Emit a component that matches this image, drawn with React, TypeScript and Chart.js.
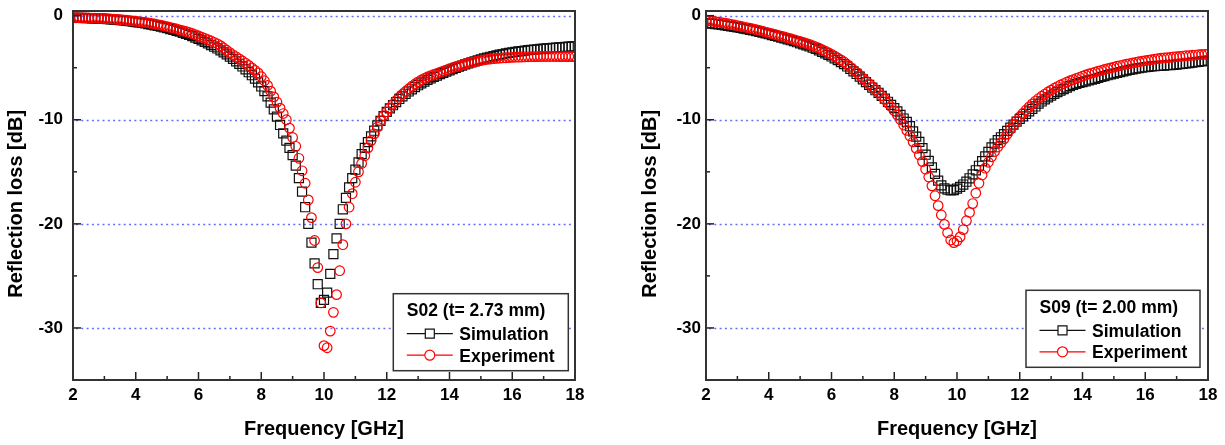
import React, { useEffect, useRef } from "react";
import { Chart, registerables } from "chart.js";

Chart.register(...registerables);

// ---------------- DATA ----------------
const frequencyGHz = [
  2.0, 2.1, 2.2, 2.3, 2.4, 2.5, 2.6, 2.7, 2.8, 2.9,
  3.0, 3.1, 3.2, 3.3, 3.4, 3.5, 3.6, 3.7, 3.8, 3.9,
  4.0, 4.1, 4.2, 4.3, 4.4, 4.5, 4.6, 4.7, 4.8, 4.9,
  5.0, 5.1, 5.2, 5.3, 5.4, 5.5, 5.6, 5.7, 5.8, 5.9,
  6.0, 6.1, 6.2, 6.3, 6.4, 6.5, 6.6, 6.7, 6.8, 6.9,
  7.0, 7.1, 7.2, 7.3, 7.4, 7.5, 7.6, 7.7, 7.8, 7.9,
  8.0, 8.1, 8.2, 8.3, 8.4, 8.5, 8.6, 8.7, 8.8, 8.9,
  9.0, 9.1, 9.2, 9.3, 9.4, 9.5, 9.6, 9.7, 9.8, 9.9,
  10.0, 10.1, 10.2, 10.3, 10.4, 10.5, 10.6, 10.7, 10.8, 10.9,
  11.0, 11.1, 11.2, 11.3, 11.4, 11.5, 11.6, 11.7, 11.8, 11.9,
  12.0, 12.1, 12.2, 12.3, 12.4, 12.5, 12.6, 12.7, 12.8, 12.9,
  13.0, 13.1, 13.2, 13.3, 13.4, 13.5, 13.6, 13.7, 13.8, 13.9,
  14.0, 14.1, 14.2, 14.3, 14.4, 14.5, 14.6, 14.7, 14.8, 14.9,
  15.0, 15.1, 15.2, 15.3, 15.4, 15.5, 15.6, 15.7, 15.8, 15.9,
  16.0, 16.1, 16.2, 16.3, 16.4, 16.5, 16.6, 16.7, 16.8, 16.9,
  17.0, 17.1, 17.2, 17.3, 17.4, 17.5, 17.6, 17.7, 17.8, 17.9,
  18.0,
];

const s02Simulation = [
  -0.20, -0.21, -0.22, -0.22, -0.23, -0.24, -0.25, -0.26, -0.28, -0.29,
  -0.31, -0.33, -0.35, -0.38, -0.40, -0.43, -0.46, -0.50, -0.53, -0.57,
  -0.61, -0.65, -0.70, -0.75, -0.80, -0.86, -0.92, -0.98, -1.05, -1.12,
  -1.20, -1.28, -1.36, -1.45, -1.54, -1.64, -1.74, -1.85, -1.97, -2.10,
  -2.23, -2.37, -2.51, -2.66, -2.82, -2.98, -3.15, -3.33, -3.52, -3.72,
  -3.93, -4.15, -4.38, -4.62, -4.88, -5.15, -5.43, -5.72, -6.05, -6.40,
  -6.80, -7.25, -7.75, -8.35, -9.00, -9.70, -10.50, -11.30, -12.00, -12.70,
  -13.40, -14.40, -15.60, -16.90, -18.40, -20.00, -21.80, -23.80, -25.80, -27.60,
  -27.30, -26.60, -24.80, -22.90, -21.40, -20.00, -18.60, -17.50, -16.50, -15.60,
  -14.80, -14.10, -13.30, -12.70, -12.15, -11.60, -11.05, -10.55, -10.10, -9.65,
  -9.25, -8.90, -8.60, -8.30, -8.00, -7.75, -7.50, -7.28, -7.07, -6.87,
  -6.68, -6.50, -6.33, -6.17, -6.02, -5.88, -5.75, -5.62, -5.50, -5.38,
  -5.26, -5.14, -5.02, -4.90, -4.79, -4.68, -4.58, -4.48, -4.38, -4.29,
  -4.20, -4.11, -4.03, -3.95, -3.88, -3.81, -3.75, -3.69, -3.63, -3.58,
  -3.53, -3.48, -3.44, -3.40, -3.36, -3.32, -3.29, -3.26, -3.23, -3.20,
  -3.17, -3.14, -3.12, -3.09, -3.07, -3.05, -3.02, -3.00, -2.98, -2.96,
  -2.94,
];

const s02Experiment = [
  -0.20, -0.20, -0.21, -0.21, -0.22, -0.22, -0.23, -0.24, -0.25, -0.26,
  -0.27, -0.29, -0.31, -0.33, -0.35, -0.38, -0.41, -0.44, -0.47, -0.50,
  -0.53, -0.57, -0.61, -0.65, -0.70, -0.75, -0.80, -0.86, -0.92, -0.99,
  -1.06, -1.13, -1.20, -1.28, -1.36, -1.44, -1.52, -1.61, -1.71, -1.82,
  -1.94, -2.06, -2.18, -2.30, -2.43, -2.57, -2.70, -2.88, -3.10, -3.32,
  -3.55, -3.76, -3.95, -4.15, -4.35, -4.55, -4.78, -5.02, -5.25, -5.50,
  -5.85, -6.25, -6.70, -7.25, -7.80, -8.30, -8.88, -9.40, -10.00, -10.80,
  -11.70, -12.55, -13.70, -14.90, -16.10, -17.70, -19.40, -21.60, -24.20, -27.60,
  -31.70, -31.90, -30.30, -28.50, -26.80, -24.50, -22.00, -20.00, -18.40, -17.10,
  -16.00, -15.00, -14.20, -13.45, -12.70, -12.00, -11.35, -10.70, -10.10, -9.60,
  -9.25, -8.85, -8.50, -8.15, -7.83, -7.55, -7.28, -7.02, -6.78, -6.56,
  -6.36, -6.18, -6.02, -5.88, -5.76, -5.65, -5.54, -5.43, -5.32, -5.21,
  -5.10, -5.00, -4.91, -4.82, -4.73, -4.64, -4.56, -4.49, -4.42, -4.36,
  -4.30, -4.25, -4.20, -4.16, -4.13, -4.10, -4.08, -4.06, -4.04, -4.02,
  -4.00, -3.99, -3.98, -3.97, -3.96, -3.95, -3.94, -3.93, -3.93, -3.92,
  -3.92, -3.92, -3.92, -3.92, -3.92, -3.93, -3.93, -3.93, -3.93, -3.93,
  -3.93,
];

const s09Simulation = [
  -0.70, -0.73, -0.76, -0.80, -0.84, -0.88, -0.92, -0.97, -1.02, -1.07,
  -1.12, -1.18, -1.24, -1.30, -1.36, -1.42, -1.49, -1.56, -1.63, -1.70,
  -1.78, -1.86, -1.94, -2.02, -2.10, -2.18, -2.27, -2.36, -2.45, -2.55,
  -2.65, -2.75, -2.85, -2.96, -3.08, -3.20, -3.33, -3.47, -3.61, -3.76,
  -3.92, -4.09, -4.27, -4.46, -4.66, -4.88, -5.11, -5.35, -5.60, -5.86,
  -6.12, -6.38, -6.64, -6.90, -7.16, -7.42, -7.70, -7.98, -8.27, -8.57,
  -8.88, -9.20, -9.53, -9.88, -10.20, -10.62, -11.12, -11.62, -12.12, -12.73,
  -13.36, -13.95, -14.57, -15.20, -15.85, -16.30, -16.58, -16.72, -16.78, -16.76,
  -16.62, -16.45, -16.22, -15.95, -15.62, -15.25, -14.85, -14.42, -13.98, -13.52,
  -13.08, -12.65, -12.28, -11.96, -11.68, -11.38, -11.07, -10.76, -10.46, -10.18,
  -9.92, -9.68, -9.44, -9.20, -8.96, -8.72, -8.45, -8.24, -8.04, -7.85,
  -7.67, -7.50, -7.34, -7.19, -7.05, -6.90, -6.77, -6.64, -6.55, -6.46,
  -6.38, -6.30, -6.22, -6.14, -6.06, -5.98, -5.89, -5.80, -5.72, -5.64,
  -5.56, -5.49, -5.42, -5.35, -5.28, -5.21, -5.15, -5.09, -5.04, -4.99,
  -4.95, -4.91, -4.88, -4.85, -4.83, -4.81, -4.79, -4.76, -4.74, -4.72,
  -4.69, -4.66, -4.62, -4.59, -4.55, -4.51, -4.47, -4.43, -4.39, -4.35,
  -4.31,
];

const s09Experiment = [
  -0.45, -0.49, -0.53, -0.57, -0.62, -0.67, -0.72, -0.77, -0.83, -0.89,
  -0.95, -1.01, -1.07, -1.14, -1.20, -1.27, -1.34, -1.41, -1.49, -1.57,
  -1.65, -1.73, -1.81, -1.89, -1.97, -2.05, -2.13, -2.21, -2.30, -2.39,
  -2.48, -2.57, -2.66, -2.76, -2.87, -2.99, -3.12, -3.26, -3.40, -3.55,
  -3.71, -3.88, -4.06, -4.25, -4.45, -4.70, -4.95, -5.20, -5.45, -5.72,
  -6.00, -6.28, -6.55, -6.83, -7.10, -7.37, -7.70, -8.05, -8.40, -8.75,
  -9.13, -9.55, -10.00, -10.50, -11.02, -11.55, -12.12, -12.75, -13.38, -14.02,
  -14.75, -15.50, -16.35, -17.30, -18.25, -19.15, -20.05, -20.85, -21.55, -21.80,
  -21.65, -21.25, -20.55, -19.70, -18.90, -18.05, -17.05, -16.10, -15.30, -14.65,
  -14.08, -13.55, -13.05, -12.62, -12.22, -11.83, -11.38, -10.93, -10.50, -10.10,
  -9.72, -9.38, -9.06, -8.76, -8.47, -8.20, -7.96, -7.74, -7.53, -7.33,
  -7.15, -6.97, -6.81, -6.66, -6.52, -6.38, -6.25, -6.14, -6.03, -5.92,
  -5.81, -5.70, -5.60, -5.51, -5.42, -5.33, -5.25, -5.17, -5.09, -5.01,
  -4.94, -4.86, -4.79, -4.72, -4.66, -4.60, -4.54, -4.48, -4.42, -4.37,
  -4.32, -4.27, -4.22, -4.17, -4.13, -4.09, -4.06, -4.03, -4.00, -3.97,
  -3.94, -3.91, -3.88, -3.85, -3.83, -3.80, -3.78, -3.75, -3.73, -3.71,
  -3.69,
];

const seriesLabels = ["Simulation", "Experiment"];
const panelTitles = ["S02 (t= 2.73 mm)", "S09 (t= 2.00 mm)"];
const xAxisTitle = "Frequency [GHz]";
const yAxisTitle = "Reflection loss [dB]";
const xRange = [2, 18];
const yRange = [-35, 0.45];

// ---------------- STYLE ----------------
const FONT = "Arial, 'Liberation Sans', Helvetica, sans-serif";

const framePlugin = {
  id: "frame",
  beforeDatasetsDraw(chart: any) {
    const { ctx, chartArea: a, scales } = chart;
    const y = scales.y;
    ctx.save();
    ctx.strokeStyle = "rgba(70,70,255,0.8)";
    ctx.lineWidth = 1.5;
    ctx.setLineDash([2, 3.3]);
    y.ticks.forEach((t: any) => {
      if (Math.abs(t.value % 10) < 1e-6) {
        const py = Math.round(y.getPixelForValue(t.value)) + 0.5;
        ctx.beginPath();
        ctx.moveTo(a.left + 3, py);
        ctx.lineTo(a.right, py);
        ctx.stroke();
      }
    });
    ctx.restore();
  },
  afterDatasetsDraw(chart: any) {
    const { ctx, chartArea: a, scales } = chart;
    const x = scales.x;
    const y = scales.y;
    ctx.save();
    ctx.strokeStyle = "#222";
    ctx.lineWidth = 1.5;
    x.ticks.forEach((t: any) => {
      const px = x.getPixelForValue(t.value);
      const len = Math.abs(t.value % 2) < 1e-6 ? 8 : 4;
      ctx.beginPath();
      ctx.moveTo(px, a.bottom);
      ctx.lineTo(px, a.bottom - len);
      ctx.stroke();
    });
    y.ticks.forEach((t: any) => {
      const py = y.getPixelForValue(t.value);
      const len = Math.abs(t.value % 10) < 1e-6 ? 8 : 4;
      ctx.beginPath();
      ctx.moveTo(a.left, py);
      ctx.lineTo(a.left + len, py);
      ctx.stroke();
    });
    ctx.strokeStyle = "#333";
    ctx.lineWidth = 2;
    ctx.strokeRect(a.left, a.top, a.right - a.left, a.bottom - a.top);
    ctx.restore();
  },
};

const boxLegendPlugin = {
  id: "boxLegend",
  afterDraw(chart: any, _args: any, opts: any) {
    const { ctx, chartArea: a } = chart;
    const w = opts.width;
    const h = opts.height;
    const bx = a.right - opts.right - w;
    const by = a.bottom - opts.bottom - h;
    ctx.save();
    ctx.fillStyle = "#fff";
    ctx.fillRect(bx, by, w, h);
    ctx.strokeStyle = "#333";
    ctx.lineWidth = 1.5;
    ctx.strokeRect(bx, by, w, h);
    ctx.fillStyle = "#000";
    ctx.font = `bold 17.5px ${FONT}`;
    ctx.textAlign = "left";
    ctx.textBaseline = "alphabetic";
    ctx.fillText(opts.title, bx + 13.5, by + 22.5);
    const rowY = [by + 40, by + 61.5];
    chart.data.datasets.forEach((ds: any, i: number) => {
      const ly = rowY[i];
      ctx.strokeStyle = ds.borderColor;
      ctx.lineWidth = 1.2;
      ctx.beginPath();
      ctx.moveTo(bx + 13.5, ly);
      ctx.lineTo(bx + 59.5, ly);
      ctx.stroke();
      const cx = bx + 36.5;
      ctx.fillStyle = "#fff";
      ctx.beginPath();
      if (ds.pointStyle === "rect") {
        ctx.rect(cx - 4.5, ly - 4.5, 9, 9);
      } else {
        ctx.arc(cx, ly, 5, 0, Math.PI * 2);
      }
      ctx.fill();
      ctx.stroke();
      ctx.fillStyle = "#000";
      ctx.fillText(ds.label, bx + 66, ly + 6.5);
    });
    ctx.restore();
  },
};

function makeConfig(sim: number[], exp: number[], title: string, yWidth: number, yPad: number, rightPad: number, legend: any) {
  return {
    type: "scatter" as const,
    data: {
      datasets: [
        {
          label: seriesLabels[0],
          data: frequencyGHz.map((f, i) => ({ x: f, y: sim[i] })),
          showLine: false,
          pointStyle: "rect",
          pointRadius: 6.4,
          pointHoverRadius: 6.4,
          pointBorderWidth: 1.2,
          borderColor: "#111111",
          backgroundColor: "rgba(0,0,0,0)",
          order: 2,
          clip: 0,
        },
        {
          label: seriesLabels[1],
          data: frequencyGHz.map((f, i) => ({ x: f, y: exp[i] })),
          showLine: false,
          pointStyle: "circle",
          pointRadius: 4.8,
          pointHoverRadius: 4.8,
          pointBorderWidth: 1.2,
          borderColor: "#ff0000",
          backgroundColor: "rgba(0,0,0,0)",
          order: 1,
          clip: 0,
        },
      ],
    },
    options: {
      animation: false as const,
      responsive: false,
      maintainAspectRatio: false,
      events: [],
      layout: { padding: { left: 0, top: 11, right: rightPad, bottom: 0 } },
      plugins: {
        legend: { display: false },
        tooltip: { enabled: false },
        boxLegend: { title, ...legend },
      },
      scales: {
        x: {
          type: "linear" as const,
          min: xRange[0],
          max: xRange[1],
          grid: { display: false, drawTicks: false },
          border: { display: false },
          ticks: {
            stepSize: 1,
            autoSkip: false,
            maxRotation: 0,
            padding: 5,
            color: "#000",
            font: { family: FONT, size: 17, weight: "bold" },
            callback: (v: any) => (Math.abs(Number(v) % 2) < 1e-6 ? String(v) : ""),
          },
          title: {
            display: true,
            text: xAxisTitle,
            color: "#000",
            font: { family: FONT, size: 20, weight: "bold" },
            padding: { top: 0, bottom: 4 },
          },
          afterFit: (s: any) => {
            s.height = 65;
            s.paddingLeft = 0;
            s.paddingRight = 0;
          },
        },
        y: {
          type: "linear" as const,
          min: yRange[0],
          max: yRange[1],
          grid: { display: false, drawTicks: false },
          border: { display: false },
          ticks: {
            stepSize: 5,
            includeBounds: false,
            autoSkip: false,
            padding: yPad,
            color: "#000",
            font: { family: FONT, size: 17, weight: "bold" },
            callback: (v: any) => (Math.abs(Number(v) % 10) < 1e-6 ? String(v) : ""),
          },
          title: {
            display: true,
            text: yAxisTitle + "\u00a0\u00a0\u00a0",
            color: "#000",
            font: { family: FONT, size: 20, weight: "bold" },
            padding: { top: 4, bottom: 0 },
          },
          afterFit: (s: any) => {
            s.width = yWidth;
            s.paddingTop = 0;
            s.paddingBottom = 0;
          },
        },
      },
    },
    plugins: [framePlugin, boxLegendPlugin],
  };
}

function Panel(props: { left: number; width: number; cfg: any }) {
  const ref = useRef<HTMLCanvasElement | null>(null);
  useEffect(() => {
    if (!ref.current) return;
    const chart = new Chart(ref.current, props.cfg);
    return () => chart.destroy();
  }, []);
  return (
    <canvas
      ref={ref}
      width={props.width}
      height={445}
      style={{ position: "absolute", left: props.left, top: 0, width: props.width, height: 445 }}
    />
  );
}

export default function App() {
  const leftCfg = makeConfig(s02Simulation, s02Experiment, panelTitles[0], 73, 10, 37, {
    width: 175,
    height: 77,
    right: 6.7,
    bottom: 9.3,
  });
  const rightCfg = makeConfig(s09Simulation, s09Experiment, panelTitles[1], 72, 5, 17, {
    width: 174,
    height: 77,
    right: 8,
    bottom: 12.7,
  });
  return (
    <div style={{ position: "absolute", left: 0, top: 0, width: 1225, height: 445, background: "#fff" }}>
      <Panel left={0} width={612} cfg={leftCfg} />
      <Panel left={634} width={591} cfg={rightCfg} />
    </div>
  );
}
